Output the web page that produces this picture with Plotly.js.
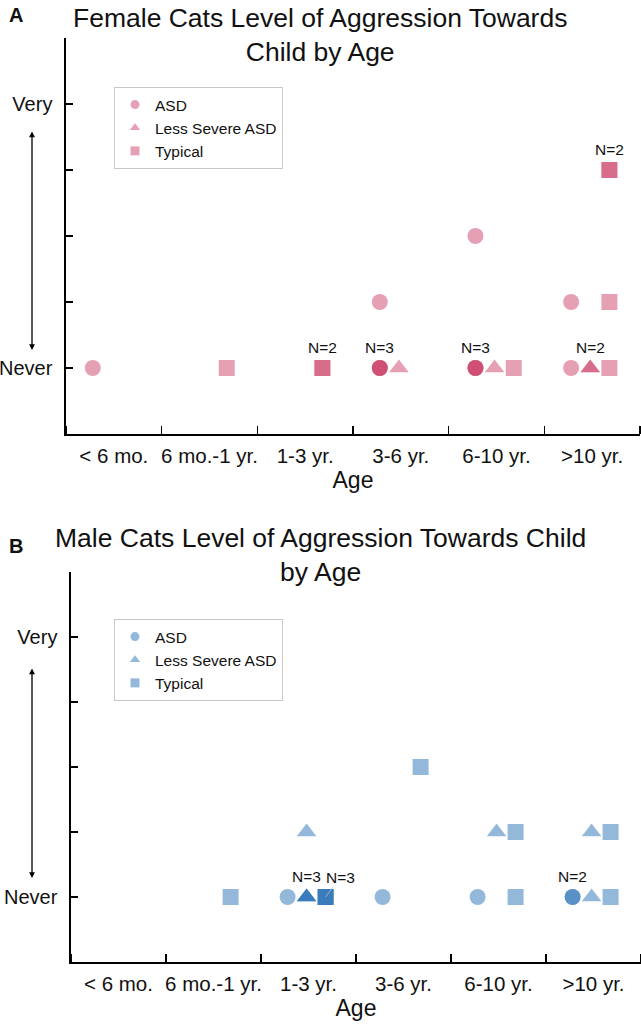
<!DOCTYPE html>
<html>
<head>
<meta charset="utf-8">
<script src="https://cdn.plot.ly/plotly-3.0.1.min.js"></script>
<style>html,body{margin:0;padding:0;background:#fff;}#chart{width:641px;height:1029px;}</style>
</head>
<body>
<div id="chart"></div>
<script>
// ---- data ----
const categories = ['< 6 mo.', '6 mo.-1 yr.', '1-3 yr.', '3-6 yr.', '6-10 yr.', '>10 yr.'];
const levelVals = [1, 2, 3, 4, 5, 6];
const levelLabels = ['Never', '', '', '', 'Very', ''];
const groups = ['ASD', 'Less Severe ASD', 'Typical'];

// Female cats: age-category index and aggression level, one entry per cat
const femaleASDCat = [0, 3, 3, 3, 3, 4, 4, 4, 4, 5, 5];
const femaleASDLvl = [1, 1, 1, 1, 2, 1, 1, 1, 3, 1, 2];
const femaleLSACat = [3, 4, 5, 5];
const femaleLSALvl = [1, 1, 1, 1];
const femaleTypCat = [1, 2, 2, 4, 5, 5, 5, 5];
const femaleTypLvl = [1, 1, 1, 1, 1, 2, 4, 4];

// Male cats
const maleASDCat = [2, 3, 4, 5, 5];
const maleASDLvl = [1, 1, 1, 1, 1];
const maleLSACat = [2, 2, 2, 2, 4, 5, 5];
const maleLSALvl = [1, 1, 1, 2, 2, 1, 2];
const maleTypCat = [1, 2, 2, 2, 3, 4, 4, 5, 5];
const maleTypLvl = [1, 1, 1, 1, 3, 1, 2, 1, 2];

// ---- style ----
const groupOffset = [0.28, 0.48, 0.68];
const groupSymbol = ['circle', 'triangle-up', 'square'];
const groupSize = [16, 17, 16];
const pink = 'rgb(199,44,88)';
const blue = 'rgb(17,97,173)';
const OP = 0.45;
const FONT = 'Liberation Sans, Arial, sans-serif';

function panelTraces(cats, lvls, color, xa, ya, legendId) {
  const traces = [];
  for (let g = 0; g < 3; g++) {
    traces.push({
      type: 'scatter', mode: 'markers',
      x: cats[g].map(c => c + groupOffset[g]),
      y: lvls[g],
      xaxis: xa, yaxis: ya,
      name: groups[g], showlegend: false, hoverinfo: 'skip',
      marker: {symbol: groupSymbol[g], size: groupSize[g], color: color, opacity: OP, line: {width: 0}}
    });
    // legend entry
    traces.push({
      type: 'scatter', mode: 'markers', x: [null], y: [null],
      xaxis: xa, yaxis: ya, name: groups[g], legend: legendId, showlegend: true,
      marker: {symbol: groupSymbol[g], size: 9, color: color, opacity: OP}
    });
  }
  return traces;
}

function nAnnotations(cats, lvls, xref, yref) {
  const anns = [];
  const used = {};
  for (let g = 0; g < 3; g++) {
    const counts = {};
    cats[g].forEach((c, i) => {
      const k = c + '|' + lvls[g][i];
      counts[k] = (counts[k] || 0) + 1;
    });
    Object.keys(counts).forEach(k => {
      if (counts[k] < 2) return;
      const [c, l] = k.split('|').map(Number);
      const spot = c + '|' + l;
      const a = {
        xref: xref, yref: yref, x: c + groupOffset[g], y: l,
        text: 'N=' + counts[k], font: {family: FONT, size: 15.5, color: '#111'}
      };
      if (used[spot]) {
        Object.assign(a, {showarrow: true, arrowhead: 0, arrowwidth: 0.8, arrowcolor: '#bbb', ax: 15, ay: -20, standoff: 0});
      } else {
        Object.assign(a, {showarrow: false, yshift: 21});
      }
      used[spot] = true;
      anns.push(a);
    });
  }
  return anns;
}

const fCats = [femaleASDCat, femaleLSACat, femaleTypCat];
const fLvls = [femaleASDLvl, femaleLSALvl, femaleTypLvl];
const mCats = [maleASDCat, maleLSACat, maleTypCat];
const mLvls = [maleASDLvl, maleLSALvl, maleTypLvl];

const data = [].concat(
  panelTraces(fCats, fLvls, pink, 'x', 'y', 'legend'),
  panelTraces(mCats, mLvls, blue, 'x2', 'y2', 'legend2')
);

const W = 641, H = 1029;
const px = v => v / W;
const py = v => 1 - v / H;

function xAxis(domain, anchor) {
  return {
    domain: domain, anchor: anchor, range: [0, 6], fixedrange: true,
    tickmode: 'array', tickvals: categories.map((_, i) => i + 0.5), ticktext: categories,
    ticks: '', showgrid: false, zeroline: false,
    showline: true, linecolor: '#000', linewidth: 1.6,
    tickfont: {family: FONT, size: 20.5, color: '#111'}, ticklabelstandoff: 3,
    minor: {tickmode: 'linear', tick0: 0, dtick: 1, ticks: 'inside', ticklen: 8, tickwidth: 1.5, tickcolor: '#000', showgrid: false},
    title: {text: 'Age', font: {family: FONT, size: 23, color: '#111'}, standoff: 5}
  };
}
function yAxis(domain, anchor) {
  return {
    domain: domain, anchor: anchor, range: [0, 6], fixedrange: true,
    tickmode: 'array', tickvals: levelVals, ticktext: levelLabels,
    ticks: 'inside', ticklen: 7, tickwidth: 1.5, tickcolor: '#000',
    showgrid: false, zeroline: false,
    showline: true, linecolor: '#000', linewidth: 1.6,
    tickfont: {family: FONT, size: 20, color: '#111'}, ticklabelstandoff: 8
  };
}

const arrowStyle = {xref: 'paper', yref: 'paper', text: '', showarrow: true, arrowhead: 2, startarrowhead: 2,
  arrowside: 'end+start', arrowsize: 0.9, startarrowsize: 0.9, arrowwidth: 1.3, arrowcolor: '#000', ax: 0, standoff: 0, startstandoff: 0};

const annotations = [].concat(
  [
    {xref: 'paper', yref: 'paper', x: px(320), y: py(1), xanchor: 'center', yanchor: 'top', showarrow: false,
     text: 'Female Cats Level of Aggression Towards<br>Child by Age', font: {family: FONT, size: 26.5, color: '#111'}},
    {xref: 'paper', yref: 'paper', x: px(320), y: py(521), xanchor: 'center', yanchor: 'top', showarrow: false,
     text: 'Male Cats Level of Aggression Towards Child<br>by Age', font: {family: FONT, size: 26.5, color: '#111'}},
    {xref: 'paper', yref: 'paper', x: px(7), y: py(2), xanchor: 'left', yanchor: 'top', showarrow: false,
     text: '<b>A</b>', font: {family: FONT, size: 20, color: '#111'}},
    {xref: 'paper', yref: 'paper', x: px(7), y: py(533), xanchor: 'left', yanchor: 'top', showarrow: false,
     text: '<b>B</b>', font: {family: FONT, size: 20, color: '#111'}},
    Object.assign({}, arrowStyle, {x: px(32), y: py(350), ay: -220}),
    Object.assign({}, arrowStyle, {x: px(32), y: py(878), ay: -211})
  ],
  nAnnotations(fCats, fLvls, 'x', 'y'),
  nAnnotations(mCats, mLvls, 'x2', 'y2')
);

const legendStyle = {
  bgcolor: '#fff', bordercolor: '#c8c8c8', borderwidth: 1,
  font: {family: FONT, size: 15.5, color: '#111'}, xanchor: 'left', yanchor: 'top',
  itemclick: false, itemdoubleclick: false, tracegroupgap: 0
};

const layout = {
  width: W, height: H,
  margin: {l: 0, r: 0, t: 0, b: 0},
  paper_bgcolor: '#fff', plot_bgcolor: '#fff',
  showlegend: true,
  xaxis: xAxis([px(66), px(640)], 'y'),
  yaxis: yAxis([py(434), py(38)], 'x'),
  xaxis2: xAxis([px(71), px(641)], 'y2'),
  yaxis2: yAxis([py(962), py(572)], 'x2'),
  legend: Object.assign({}, legendStyle, {x: px(114), y: py(87)}),
  legend2: Object.assign({}, legendStyle, {x: px(114), y: py(619)}),
  annotations: annotations
};

Plotly.newPlot('chart', data, layout, {displayModeBar: false, staticPlot: true});
</script>
</body>
</html>
